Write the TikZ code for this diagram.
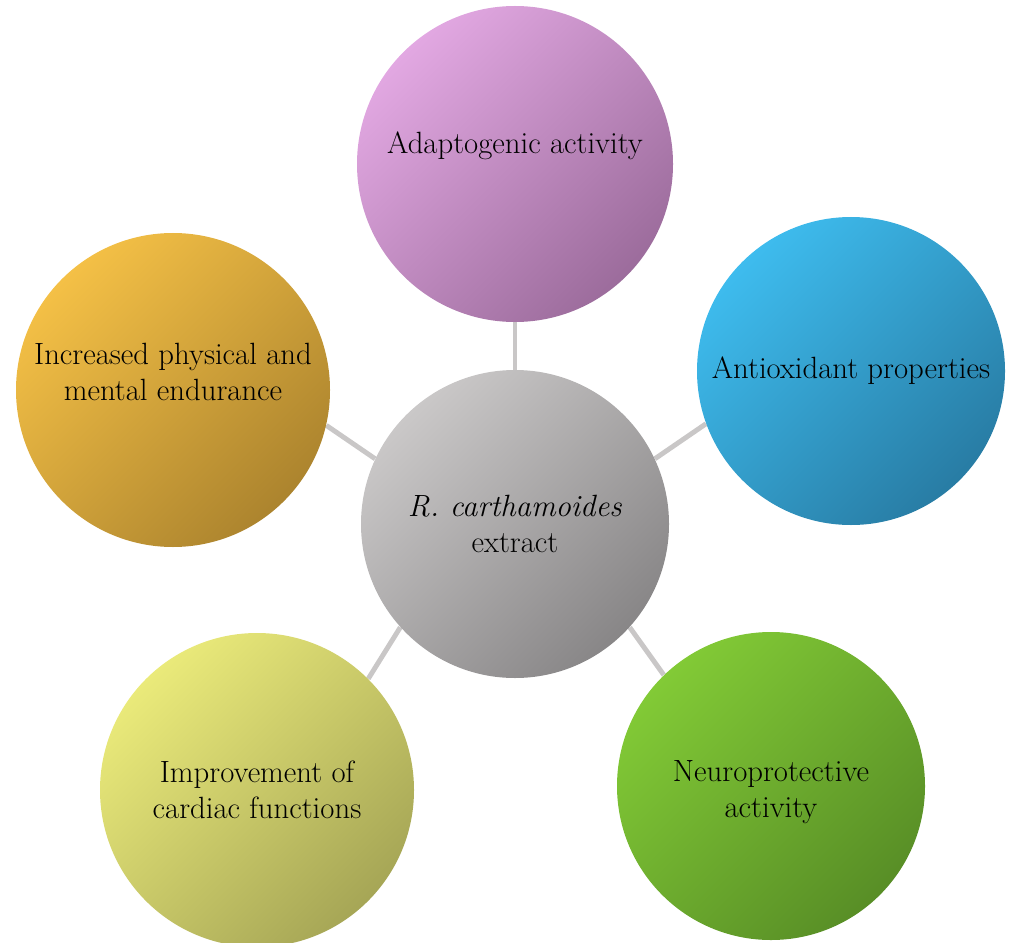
\documentclass[tikz,border=0pt]{standalone}
\usepackage{fontspec}
\usetikzlibrary{backgrounds}

\definecolor{spokegray}{RGB}{201,199,199}
\definecolor{adaptA}{RGB}{226,168,226}
\definecolor{adaptB}{RGB}{156,108,156}
\definecolor{centA}{RGB}{202,200,200}
\definecolor{centB}{RGB}{136,134,135}
\definecolor{endurA}{RGB}{244,192,70}
\definecolor{endurB}{RGB}{172,132,46}
\definecolor{antioxA}{RGB}{62,188,238}
\definecolor{antioxB}{RGB}{40,124,164}
\definecolor{neuroA}{RGB}{130,202,54}
\definecolor{neuroB}{RGB}{88,142,38}
\definecolor{cardA}{RGB}{234,234,122}
\definecolor{cardB}{RGB}{166,166,86}

\begin{document}
\begin{tikzpicture}[x=0.02cm,y=-0.02cm,
    bubble/.style 2 args={circle,inner sep=0pt,top color=#1,bottom color=#2,shading angle=45,
      align=center,text=black,font=\fontsize{17.5}{20.5}\selectfont},
    spoke/.style={line width=2.8pt,spokegray}]
  \useasboundingbox (0,0) rectangle (1016,942);
  % hub and the five effects
  \node[bubble={centA}{centB},minimum size=308*0.02cm] (c) at (515,524) {\textit{R.~carthamoides}\\extract};
  \node[bubble={adaptA}{adaptB},minimum size=316*0.02cm,text depth=24pt] (adapt) at (515,164) {Adaptogenic activity};
  \node[bubble={antioxA}{antioxB},minimum size=308*0.02cm] (antiox) at (851,371) {Antioxidant properties};
  \node[bubble={neuroA}{neuroB},minimum size=308*0.02cm,text height=39pt] (neuro) at (771,786) {Neuroprotective\\activity};
  \node[bubble={cardA}{cardB},minimum size=314*0.02cm] (cardiac) at (257,790) {Improvement of\\cardiac functions};
  \node[bubble={endurA}{endurB},minimum size=314*0.02cm,text depth=21pt] (endur) at (173,390) {Increased physical and\\mental endurance};
  % spokes behind the circles
  \begin{pgfonlayer}{background}
    \foreach \n/\p/\q in {adapt/90/270,antiox/25/200,neuro/-42/134,cardiac/222/45,endur/155/-13}
      \draw[spoke] (c.\p) -- (\n.\q);
  \end{pgfonlayer}
\end{tikzpicture}
\end{document}
